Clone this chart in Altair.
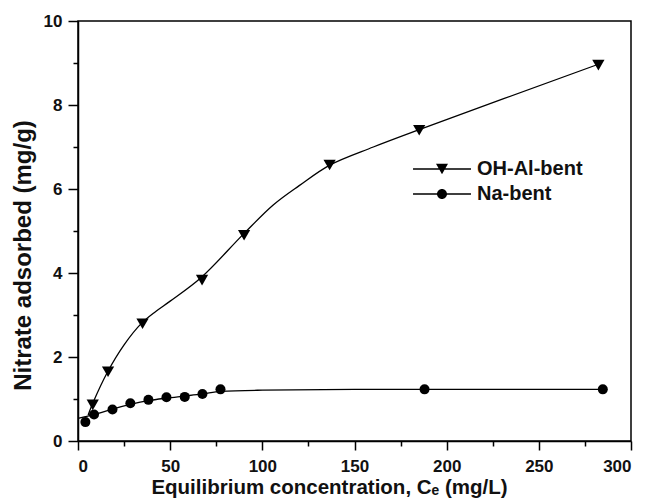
import altair as alt
import pandas as pd

series_names = ["OH-Al-bent", "Na-bent"]

# observed points
oh_x = [8.0, 16.3, 35.0, 67.3, 90.1, 136.5, 185.1, 282.3]
oh_y = [0.86, 1.65, 2.79, 3.83, 4.90, 6.57, 7.40, 8.95]
na_x = [4.0, 8.7, 18.7, 28.4, 38.2, 48.0, 57.9, 67.5, 77.3, 188.0, 284.7]
na_y = [0.45, 0.63, 0.75, 0.90, 0.98, 1.04, 1.05, 1.12, 1.23, 1.23, 1.23]

# fitted curves
oh_fit_x = [5.5, 8.0, 16.1, 25.0, 34.4, 42.0, 50.0, 67.0, 89.6, 105.9, 120.0, 136.6, 160.2, 185.5, 282.3]
oh_fit_y = [0.62, 0.90, 1.65, 2.29, 2.80, 3.08, 3.33, 3.90, 4.92, 5.62, 6.08, 6.57, 7.00, 7.42, 8.97]
na_fit_x = [0.0, 4.0, 8.7, 18.7, 28.4, 38.2, 48.0, 57.9, 67.5, 77.3, 100.0, 150.0, 188.0, 284.7]
na_fit_y = [0.54, 0.58, 0.63, 0.76, 0.87, 0.96, 1.02, 1.07, 1.12, 1.18, 1.21, 1.23, 1.23, 1.23]

x_major = [0, 50, 100, 150, 200, 250, 300]
x_minor = [25, 75, 125, 175, 225, 275]
y_major = [0, 2, 4, 6, 8, 10]
y_minor = [1, 3, 5, 7, 9]

obs = pd.DataFrame({
    "series": [series_names[0]] * len(oh_x) + [series_names[1]] * len(na_x),
    "x": oh_x + na_x,
    "y": oh_y + na_y,
})
oh_fit = pd.DataFrame({"series": series_names[0], "x": oh_fit_x, "y": oh_fit_y})
na_fit = pd.DataFrame({"series": series_names[1], "x": na_fit_x, "y": na_fit_y})

FONT = "Liberation Sans"
xscale = alt.Scale(domain=[0, 300], nice=False, zero=False)
yscale = alt.Scale(domain=[0, 10], nice=False, zero=False)

oh_line = alt.Chart(oh_fit).mark_line(interpolate="catmull-rom", color="black", strokeWidth=1.3).encode(
    x=alt.X("x:Q", scale=xscale, axis=alt.Axis(
        values=x_major, tickSize=9, orient="bottom", labelPadding=8, titlePadding=3,
        titleFontSize=20.5, titleX=251, titleAlign="center",
        title="Equilibrium concentration, C\u2091 (mg/L)")),
    y=alt.Y("y:Q", scale=yscale, axis=alt.Axis(
        values=y_major, tickSize=10, orient="left", labelPadding=6, titlePadding=8,
        titleFontSize=24, titleY=234, titleAlign="center",
        title="Nitrate adsorbed (mg/g)")),
)

na_line = alt.Chart(na_fit).mark_line(interpolate="monotone", color="black", strokeWidth=1.3).encode(
    x=alt.X("x:Q", scale=xscale, axis=None),
    y=alt.Y("y:Q", scale=yscale, axis=None),
)

points = alt.Chart(obs).mark_point(filled=True, color="black", opacity=1).encode(
    x=alt.X("x:Q", scale=xscale, axis=alt.Axis(
        values=x_minor, tickSize=5, labels=False, domain=False, title=None, orient="bottom")),
    y=alt.Y("y:Q", scale=yscale, axis=alt.Axis(
        values=y_minor, tickSize=5, labels=False, domain=False, title=None, orient="left")),
    shape=alt.Shape("series:N", scale=alt.Scale(domain=series_names, range=["triangle-down", "circle"]), legend=None),
    size=alt.Size("series:N", scale=alt.Scale(domain=series_names, range=[150, 100]), legend=None),
)

# legend glyphs: a thin bar (the line) plus the marker, in symbol units
tri_path = "M-4.83,-0.11L4.83,-0.11L4.83,0.11L-4.83,0.11ZM0,0.866L-1,-0.866L1,-0.866Z"
circ_path = ("M-4.83,-0.11L4.83,-0.11L4.83,0.11L-4.83,0.11Z"
             "M0.83,0A0.83,0.83 0 1,1 -0.83,0A0.83,0.83 0 1,1 0.83,0Z")

legend_layer = alt.Chart(obs).transform_filter("false").mark_point(filled=True, color="black", opacity=1).encode(
    x=alt.X("x:Q", scale=xscale, axis=None),
    y=alt.Y("y:Q", scale=yscale, axis=None),
    shape=alt.Shape("series:N", scale=alt.Scale(domain=series_names, range=[tri_path, circ_path]),
                    legend=alt.Legend(
                        title=None, orient="none", legendX=354, legendY=138, padding=0,
                        symbolSize=144, symbolStrokeWidth=0, symbolFillColor="black",
                        symbolOpacity=1,
                        labelFont=FONT, labelFontSize=20, labelFontWeight="bold",
                        labelColor="#111111", labelOffset=25, rowPadding=5, labelLimit=400)),
)

chart = alt.layer(oh_line, na_line, points, legend_layer).resolve_scale(
    shape="independent", size="independent"
).resolve_axis(
    x="independent", y="independent"
).properties(
    width=553, height=420,
    autosize=alt.AutoSizeParams(type="none"),
    padding={"left": 78, "top": 21, "right": 27, "bottom": 57},
    background="white",
).configure_view(
    stroke="black", strokeWidth=1.5
).configure_axis(
    grid=False,
    domainColor="black", domainWidth=1.5,
    tickColor="black", tickWidth=1.5,
    labelFont=FONT, labelFontSize=17, labelFontWeight="bold", labelColor="#111111",
    titleFont=FONT, titleFontWeight="bold", titleColor="#111111",
)

chart.save("out.html", embed_options={"renderer": "svg", "actions": False})
